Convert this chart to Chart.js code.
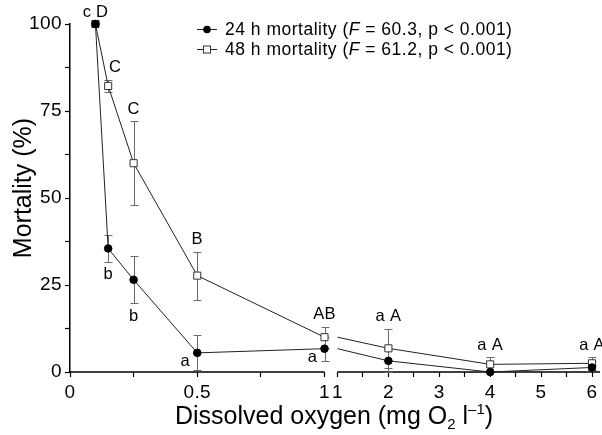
<!DOCTYPE html>
<html>
<head>
<meta charset="utf-8">
<title>Mortality vs dissolved oxygen</title>
<script src="https://cdn.jsdelivr.net/npm/chart.js@4.4.1/dist/chart.umd.min.js"></script>
<style>
  html, body { margin: 0; padding: 0; background: #fff; }
</style>
</head>
<body>
<canvas id="chart" width="602" height="435"></canvas>
<script>
// Dissolved oxygen levels (mg O2 l-1) and mean mortality (%) with SE
const oxygen = [0.1, 0.15, 0.25, 0.5, 1, 2, 4, 6];
const mort24 = [100, 35.5, 26.5, 5.5, 6.7, 3.2, 0, 1.3];
const err24 = [0, 3.8, 6.7, 5, 3.5, 3.2, 0, 0.8];
const mort48 = [100, 82.2, 60, 27.7, 10, 6.8, 2.2, 2.5];
const err48 = [0, 1.8, 12, 6.9, 3, 5.6, 2, 1.8];

// Tukey groups
const groups24 = ["c", "b", "b", "a", "a", "a", "a", "a"];
const groups48 = ["D", "C", "C", "B", "AB", "A", "A", "A"];

const seriesNames = ["24 h mortality", "48 h mortality"];
const fValues = ["60.3", "61.2"];
const pText = "p < 0.001";

// x axis ticks, left part (0-1) and right part (1-6)
const xTicksLeft = [0, 0.25, 0.5, 0.75, 1];
const xLabelsLeft = ["0", "", "0.5", "", "1"];
const xTicksRight = [1, 1.5, 2, 2.5, 3, 3.5, 4, 4.5, 5, 5.5, 6];
const xLabelsRight = ["1", "", "2", "", "3", "", "4", "", "5", "", "6"];

const FONT = "'Liberation Sans', Arial, Helvetica, sans-serif";

// broken axis: 0-1 at full scale, then a small gap, then 1-6 compressed
const BREAK_GAP = 0.051;
const RIGHT_SCALE = 0.2;
const axisPos = (x, right = false) =>
  x < 1 || (x === 1 && !right) ? x : 1 + BREAK_GAP + (x - 1) * RIGHT_SCALE;

const buildSeries = function (values) {
  const pts = [];
  oxygen.forEach((o, i) => {
    pts.push({ x: axisPos(o), y: values[i] });
    if (o === 1) {
      // gap, then restart the line after the break
      pts.push({ x: 1 + BREAK_GAP / 2, y: null });
      pts.push({ x: axisPos(1, true), y: values[i], hide: true });
    }
  });
  return pts;
};

const xTicks = [
  ...xTicksLeft.map((v, i) => ({ value: axisPos(v), text: xLabelsLeft[i] })),
  ...xTicksRight.map((v, i) => ({ value: axisPos(v, true), text: xLabelsRight[i] })),
];

//Wider tracking for the tick labels
const tickSpacing = {
  id: "tickSpacing",
  beforeDraw(chart) {
    chart.ctx.letterSpacing = "0.4px";
  },
};

//Error bars
const errorBars = {
  id: "errorBars",
  beforeDatasetsDraw(chart) {
    const { ctx } = chart;
    const { x, y } = chart.scales;
    ctx.save();
    ctx.strokeStyle = "#6a6a6a";
    ctx.lineWidth = 1;
    [[mort24, err24], [mort48, err48]].forEach(([vals, errs]) => {
      oxygen.forEach((o, i) => {
        if (!errs[i]) return;
        const px = Math.round(x.getPixelForValue(axisPos(o))) + 0.5;
        const top = Math.round(y.getPixelForValue(vals[i] + errs[i])) + 0.5;
        const bot = Math.round(y.getPixelForValue(Math.max(0, vals[i] - errs[i]))) + 0.5;
        ctx.beginPath();
        ctx.moveTo(px, top);
        ctx.lineTo(px, bot);
        ctx.moveTo(px - 4, top);
        ctx.lineTo(px + 4, top);
        ctx.moveTo(px - 4, bot);
        ctx.lineTo(px + 4, bot);
        ctx.stroke();
      });
    });
    ctx.restore();
  },
};

//Broken x axis line
const brokenAxis = {
  id: "brokenAxis",
  beforeDatasetsDraw(chart) {
    const { ctx, chartArea } = chart;
    const x = chart.scales.x;
    const yb = chartArea.bottom;
    ctx.save();
    ctx.strokeStyle = "#000";
    ctx.lineWidth = 1.5;
    ctx.beginPath();
    ctx.moveTo(chartArea.left, yb);
    ctx.lineTo(x.getPixelForValue(axisPos(1)), yb);
    ctx.moveTo(x.getPixelForValue(axisPos(1, true)), yb);
    ctx.lineTo(chartArea.right + 8, yb);
    ctx.stroke();
    ctx.restore();
  },
};

//Group letters
const groupLetters = {
  id: "groupLetters",
  afterDatasetsDraw(chart) {
    const { ctx } = chart;
    const { x, y } = chart.scales;
    ctx.save();
    ctx.letterSpacing = "0.3px";
    ctx.fillStyle = "#000";
    ctx.font = `16.5px ${FONT}`;
    ctx.textAlign = "center";
    ctx.textBaseline = "middle";
    oxygen.forEach((o, i) => {
      const px = x.getPixelForValue(axisPos(o));
      const top48 = y.getPixelForValue(mort48[i] + err48[i]);
      const bot24 = y.getPixelForValue(Math.max(0, mort24[i] - err24[i]));
      const pt24 = y.getPixelForValue(mort24[i]);
      if (i === 0 || o >= 2) {
        ctx.fillText(`${groups24[i]} ${groups48[i]}`, px, top48 - 12);
        return;
      }
      ctx.fillText(groups48[i], i === 1 ? px + 7 : px, top48 - 12);
      if (o >= 0.5) {
        ctx.fillText(groups24[i], px - 12, pt24 + 9);
      } else {
        ctx.fillText(groups24[i], px, bot24 + 13);
      }
    });
    ctx.restore();
  },
};

//Legend and axis titles
const drawRich = function (ctx, parts, x, y) {
  let cx = x;
  parts.forEach(([text, font, dy = 0]) => {
    ctx.font = font;
    ctx.fillText(text, cx, y + dy);
    cx += ctx.measureText(text).width;
  });
  return cx - x;
};

const measureRich = function (ctx, parts) {
  return parts.reduce((w, [text, font]) => {
    ctx.font = font;
    return w + ctx.measureText(text).width;
  }, 0);
};

const annotations = {
  id: "annotations",
  afterDraw(chart) {
    const { ctx } = chart;
    ctx.save();
    ctx.fillStyle = "#000";
    ctx.textBaseline = "alphabetic";
    ctx.textAlign = "left";

    // legend
    ctx.letterSpacing = "0.5px";
    const rows = [29, 49];
    rows.forEach((ry, k) => {
      ctx.strokeStyle = "#222";
      ctx.lineWidth = 1;
      ctx.beginPath();
      ctx.moveTo(197, ry + 0.5);
      ctx.lineTo(217, ry + 0.5);
      ctx.stroke();
      if (k === 0) {
        ctx.beginPath();
        ctx.arc(207, ry + 0.5, 3.8, 0, Math.PI * 2);
        ctx.fillStyle = "#000";
        ctx.fill();
      } else {
        ctx.fillStyle = "#fff";
        ctx.fillRect(203.5, ry - 3, 7, 7);
        ctx.strokeStyle = "#333";
        ctx.strokeRect(203.5, ry - 3, 7, 7);
      }
      ctx.fillStyle = "#000";
      drawRich(
        ctx,
        [
          [`${seriesNames[k]} (`, `17.5px ${FONT}`],
          ["F", `italic 17.5px ${FONT}`],
          [` = ${fValues[k]}, ${pText})`, `17.5px ${FONT}`],
        ],
        225,
        ry + 6
      );
    });

    // x title with subscript and superscript
    ctx.letterSpacing = "0px";
    const xParts = [
      ["Dissolved oxygen (mg O", `25px ${FONT}`],
      ["2", `15px ${FONT}`, 5],
      [" l", `25px ${FONT}`],
      ["\u20131", `15px ${FONT}`, -10],
      [")", `25px ${FONT}`],
    ];
    const w = measureRich(ctx, xParts);
    drawRich(ctx, xParts, 334 - w / 2, 424);

    // y title
    ctx.translate(31, 188);
    ctx.rotate(-Math.PI / 2);
    ctx.textAlign = "center";
    ctx.font = `25px ${FONT}`;
    ctx.fillText("Mortality (%)", 0, 0);
    ctx.restore();
  },
};

new Chart(document.getElementById("chart"), {
  type: "line",
  data: {
    datasets: [
      {
        label: seriesNames[0],
        data: buildSeries(mort24),
        borderColor: "#222",
        borderWidth: 1,
        pointStyle: "circle",
        pointRadius: (c) => (c.raw && c.raw.hide ? 0 : 3.8),
        pointBackgroundColor: "#000",
        pointBorderColor: "#000",
        pointBorderWidth: 1,
        spanGaps: false,
        clip: false,
      },
      {
        label: seriesNames[1],
        data: buildSeries(mort48),
        borderColor: "#222",
        borderWidth: 1,
        pointStyle: "rect",
        pointRadius: (c) => (c.raw && c.raw.hide ? 0 : 5),
        pointBackgroundColor: (c) => (c.dataIndex === 0 ? "#000" : "#fff"),
        pointBorderColor: "#333",
        pointBorderWidth: 1,
        spanGaps: false,
        clip: false,
      },
    ],
  },
  options: {
    responsive: false,
    animation: false,
    devicePixelRatio: 1,
    layout: { padding: { top: 24, right: 10, left: 0, bottom: 0 } },
    plugins: {
      legend: { display: false },
      tooltip: { enabled: false },
    },
    scales: {
      x: {
        type: "linear",
        min: 0,
        max: axisPos(6, true),
        afterBuildTicks: (scale) => {
          scale.ticks = xTicks.map((t) => ({ ...t }));
        },
        afterFit: (scale) => {
          scale.height = 63;
        },
        border: { display: false },
        grid: {
          drawOnChartArea: false,
          drawTicks: true,
          tickLength: 5,
          tickColor: "#000",
          tickWidth: 1.2,
        },
        ticks: {
          autoSkip: false,
          maxRotation: 0,
          padding: 4,
          color: "#000",
          font: { family: FONT, size: 19 },
          callback: (v, i, ticks) => ticks[i].text,
        },
      },
      y: {
        min: 0,
        max: 100,
        afterFit: (scale) => {
          scale.width = 70;
        },
        border: { color: "#000", width: 1.5 },
        grid: {
          drawOnChartArea: false,
          tickLength: 5,
          tickColor: "#000",
          tickWidth: 1.2,
        },
        ticks: {
          stepSize: 12.5,
          autoSkip: false,
          padding: 3,
          color: "#000",
          font: { family: FONT, size: 19 },
          callback: (v) => (v % 25 === 0 ? v : ""),
        },
      },
    },
  },
  plugins: [tickSpacing, brokenAxis, errorBars, groupLetters, annotations],
});
</script>
</body>
</html>
